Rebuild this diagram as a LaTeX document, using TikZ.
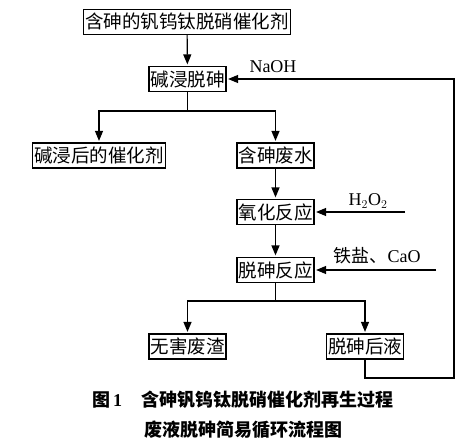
\documentclass[tikz,border=0pt]{standalone}
\usepackage{fontspec}
\setmainfont{Liberation Serif}
\newfontfamily\cjk{Noto Sans CJK SC}
\usetikzlibrary{arrows.meta,positioning,calc}

\begin{document}
\begin{tikzpicture}[x=1pt, y=-1pt,
        box/.style={rectangle, draw=black, line width=1.2pt, fill=white, minimum height=25pt, inner xsep=1.5pt, inner ysep=0pt, font=\cjk\fontsize{18.5}{20}\selectfont},
        chem/.style={font=\fontsize{18}{20}\selectfont},
        line/.style={line width=1.2pt},
        arrow/.style={-{Triangle[length=10pt,width=8pt]}, line width=1.2pt, shorten >=1.5pt}
    ]
        \useasboundingbox (0,0) rectangle (474,447);

        \node[box] (cat) at (187,22) {含砷的钒钨钛脱硝催化剂};
        \node[box] (leach) at (187.5,79) {碱浸脱砷};
        \node[box] (spent) at (99,155.5) {碱浸后的催化剂};
        \node[box] (water) at (275.5,155.5) {含砷废水};
        \node[box] (oxid) at (275.5,212) {氧化反应};
        \node[box] (react) at (275.5,270) {脱砷反应};
        \node[box] (slag) at (187.5,346.5) {无害废渣};
        \node[box] (liquor) at (365,346.5) {脱砷后液};

        \node[chem] (naoh) at (273,67) {NaOH};
        \node[chem] (hperox) at (368,201) {H$_2$O$_2$};
        \node[chem] (salt) at (377,256) {{\cjk 铁盐、}CaO};

        \coordinate (split1) at (187.5,111);
        \coordinate (split2) at (275.5,301);
        \coordinate (hin) at (405,212);
        \coordinate (saltin) at (436,270);
        \coordinate (ret) at (454,378);

        \draw[arrow] (cat) -- (leach);
        \draw[line] (leach) -- (split1);
        \draw[arrow] (split1) -| (spent);
        \draw[arrow] (split1) -| (water);
        \draw[arrow] (water) -- (oxid);
        \draw[arrow] (oxid) -- (react);
        \draw[arrow] (hin) -- (oxid);
        \draw[arrow] (saltin) -- (react);
        \draw[line] (react) -- (split2);
        \draw[arrow] (split2) -| (slag);
        \draw[arrow] (split2) -| (liquor);
        \draw[arrow] (liquor) |- (ret) |- (leach);

        \node[align=center, font=\cjk\bfseries\fontsize{18}{30}\selectfont] (caption) at (243,415)
            {图\,{\rmfamily\bfseries 1}\hspace{1.1em}含砷钒钨钛脱硝催化剂再生过程\\废液脱砷简易循环流程图};
    \end{tikzpicture}
\end{document}
